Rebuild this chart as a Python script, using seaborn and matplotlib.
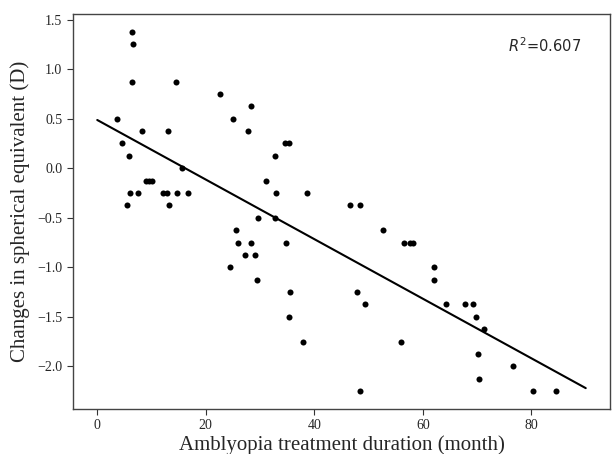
import numpy as np
import pandas as pd
import matplotlib
matplotlib.use("Agg")
import matplotlib.pyplot as plt
import seaborn as sns

# months of treatment and change in spherical equivalent (D)
duration = [3.7, 4.5, 5.8, 5.4, 6.0, 6.35, 6.5, 6.35, 7.45, 8.2,
            9.0, 9.5, 10.0, 12.1, 12.8, 13.0, 13.2, 14.5, 14.65, 15.6,
            16.8, 22.6, 25.1, 28.3, 27.8, 34.5, 35.3, 32.8, 31.0, 33.0,
            38.6, 46.5, 48.5, 29.6, 32.7, 25.5, 26.0, 28.3, 34.7, 27.2,
            29.1, 24.4, 29.4, 52.6, 56.6, 57.7, 58.2, 35.5, 47.8, 49.4,
            35.3, 37.9, 55.9, 62.0, 62.0, 64.2, 67.8, 69.3, 69.8, 71.2,
            70.1, 76.6, 70.4, 80.2, 84.6, 48.5]
se_change = [0.5, 0.25, 0.125, -0.375, -0.25, 1.375, 1.25, 0.875, -0.25, 0.375,
             -0.125, -0.125, -0.125, -0.25, -0.25, 0.375, -0.375, 0.875, -0.25, 0.0,
             -0.25, 0.75, 0.5, 0.625, 0.375, 0.25, 0.25, 0.125, -0.125, -0.25,
             -0.25, -0.375, -0.375, -0.5, -0.5, -0.625, -0.75, -0.75, -0.75, -0.875,
             -0.875, -1.0, -1.125, -0.625, -0.75, -0.75, -0.75, -1.25, -1.25, -1.375,
             -1.5, -1.75, -1.75, -1.0, -1.125, -1.375, -1.375, -1.375, -1.5, -1.625,
             -1.875, -2.0, -2.125, -2.25, -2.25, -2.25]

# fitted line as drawn in the figure
fit_x = [0, 90]
fit_y = [0.487, -2.22]
r2_label = "$R^2$=0.607"

df = pd.DataFrame({"duration": duration, "se": se_change})
fit = pd.DataFrame({"duration": fit_x, "se": fit_y})

sns.set_style("ticks")
plt.rcParams["font.family"] = ["Liberation Serif", "DejaVu Serif"]
plt.rcParams["mathtext.fontset"] = "dejavusans"

fig, ax = plt.subplots(figsize=(6.12, 4.54), dpi=100)
fig.subplots_adjust(left=0.119, right=0.997, top=0.969, bottom=0.099)

sns.scatterplot(data=df, x="duration", y="se", color="black", s=19,
                linewidth=0, ax=ax)
sns.lineplot(data=fit, x="duration", y="se", color="black", linewidth=1.5,
             ax=ax)

ax.set_xticks([0, 20, 40, 60, 80])
ax.set_yticks([1.5, 1.0, 0.5, 0.0, -0.5, -1.0, -1.5, -2.0])
ax.set_yticklabels(["1.5", "1.0", "0.5", "0.0", "\u22120.5", "\u22121.0",
                    "\u22121.5", "\u22122.0"])
ax.tick_params(labelsize=10, color="#333333", length=4)
for sp in ax.spines.values():
    sp.set_color("#444444")
    sp.set_linewidth(1.0)

ax.set_xlabel("Amblyopia treatment duration (month)", fontsize=15, labelpad=2)
ax.set_ylabel("Changes in spherical equivalent (D)", fontsize=15, labelpad=5)

ax.text(0.81, 0.92, r2_label, transform=ax.transAxes, fontsize=10.5,
        family="DejaVu Sans", va="center")

fig.savefig("out.png", dpi=100)
